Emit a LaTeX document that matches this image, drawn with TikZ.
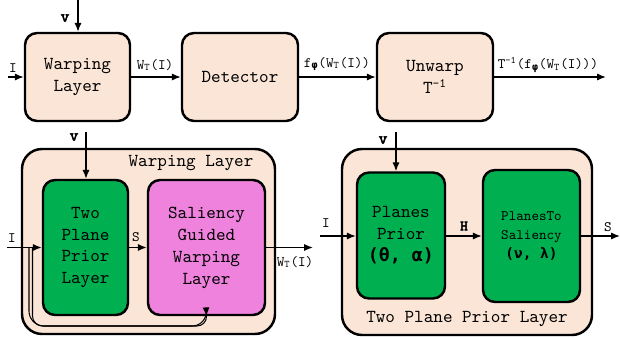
\documentclass[tikz,border=0pt]{standalone}
\usepackage{fontspec}
\setmonofont{lmmono10-regular.otf}[BoldFont=lmmono10-regular.otf, BoldFeatures={FakeBold=3.5}]
\newfontfamily\grk{DejaVu Sans Mono}
\usetikzlibrary{arrows.meta}
\definecolor{peach}{HTML}{FBE5D6}
\definecolor{boxgreen}{HTML}{00B050}
\definecolor{boxpink}{HTML}{EE82DD}
\newcommand{\gb}[1]{{\grk\bfseries #1}}
\newcommand{\WT}{W\textsubscript{T}(I)}
\newcommand{\fphi}{f\textsubscript{\gb{φ}}}
\tikzset{
  every node/.style={font=\ttfamily\fontsize{10.4}{12.5}\selectfont},
  block/.style={draw, line width=1.4pt, rounded corners=0.24cm, fill=peach, align=center, inner sep=2pt},
  outer/.style={draw, line width=1.4pt, rounded corners=0.4cm, fill=peach},
  conn/.style={line width=0.8pt, -{Latex[length=5pt,width=4pt]}},
  loopline/.style={line width=0.6pt},
  lbl/.style={inner sep=1pt, font=\ttfamily\fontsize{8.2}{10}\selectfont},
  vlbl/.style={inner sep=1pt, font=\ttfamily\bfseries\fontsize{9.5}{10}\selectfont}
}
\begin{document}
\begin{tikzpicture}[x=0.02cm,y=-0.02cm]
            \useasboundingbox (0,0) rectangle (620,338);
            % top row
            \node[block, minimum width=2.1cm, minimum height=1.76cm] (warp) at (77.5,77) {Warping\\Layer};
            \node[block, minimum width=2.32cm, minimum height=1.76cm] (det) at (240,77) {Detector};
            \node[block, minimum width=2.32cm, minimum height=1.76cm] (unwarp) at (435,77) {Unwarp\\T\textsuperscript{-1}};
            \coordinate (vtop) at (78,0);
            \coordinate (itop) at (8,77);
            \coordinate (otop) at (606,77);

            \node[vlbl] (vtoplbl) at (65,18) {v};
            \node[lbl] (itoplbl) at (13,68) {I};
            \node[lbl] (wlbl) at (155,65) {\WT};
            \node[lbl] (flbl) at (337,64) {\fphi(\WT)};
            \node[lbl] (olbl) at (548,65) {T\textsuperscript{-1}(\fphi(\WT))};

            \draw[conn] (vtop) -- (vtop |- warp.north);
            \draw[conn] (itop) -- (warp.west);
            \draw[conn] (warp) -- (det);
            \draw[conn] (det) -- (unwarp);
            \draw[conn] (unwarp.east) -- (otop);

            % warping layer
            \draw[outer] (22,149) rectangle (275,334);
            \node (wltitle) at (191,163) {Warping Layer};
            \node[block, fill=boxgreen, minimum width=1.7cm, minimum height=2.7cm] (tpp) at (85.5,247.5) {Two\\Plane\\Prior\\Layer};
            \node[block, fill=boxpink, minimum width=2.34cm, minimum height=2.7cm] (sal) at (206.5,247.5) {Saliency\\Guided\\Warping\\Layer};
            \coordinate (vwl) at (86,132);
            \coordinate (iwl) at (7,247.5);
            \coordinate (owl) at (313,247.5);
            \coordinate (splita) at (29,247.5);
            \coordinate (splitb) at (32.5,247.5);

            \node[vlbl] (vwllbl) at (74,137) {v};
            \node[lbl] (iwllbl) at (12,238) {I};
            \node[lbl] (swllbl) at (136,237) {S};
            \node[lbl] (owllbl) at (295,262) {\WT};

            \draw[conn] (vwl) -- (vwl |- tpp.north);
            \draw[conn] (iwl) -- (tpp.west);
            \draw[conn] (tpp) -- (sal);
            \draw[conn] (sal.east) -- (owl);
            \draw[loopline, rounded corners=0.3cm] (splita) -- (29,326) -- (207,326) -- (sal.south);
            \draw[loopline, conn, line width=0.6pt, rounded corners=0.2cm] (splitb) -- (32.5,326) -- (207,326) -- (sal.south);

            % two plane prior layer
            \draw[outer] (342,149) rectangle (592,335);
            \node (tptitle) at (467,319) {Two Plane Prior Layer};
            \node[block, fill=boxgreen, minimum width=1.76cm, minimum height=2.52cm] (pp) at (401,235.5) {Planes\\Prior\\\gb{(θ, α)}};
            \node[block, fill=boxgreen, minimum width=1.94cm, minimum height=2.64cm, font=\ttfamily\fontsize{8.2}{11}\selectfont] (pts) at (531.5,236) {PlanesTo\\Saliency\\\gb{(ν, λ)}};
            \coordinate (vtp) at (396,132);
            \coordinate (itp) at (320,236);
            \coordinate (otp) at (620,236);

            \node[vlbl] (vtplbl) at (383,140) {v};
            \node[lbl] (itplbl) at (326,223) {I};
            \node[lbl] (htplbl) at (464,226) {\textbf{H}};
            \node[lbl] (stplbl) at (608,227) {S};

            \draw[conn] (vtp) -- (vtp |- pp.north);
            \draw[conn] (itp) -- (itp -| pp.west);
            \draw[conn] (pp.east |- itp) -- (itp -| pts.west);
            \draw[conn] (itp -| pts.east) -- (otp);
\end{tikzpicture}
\end{document}
